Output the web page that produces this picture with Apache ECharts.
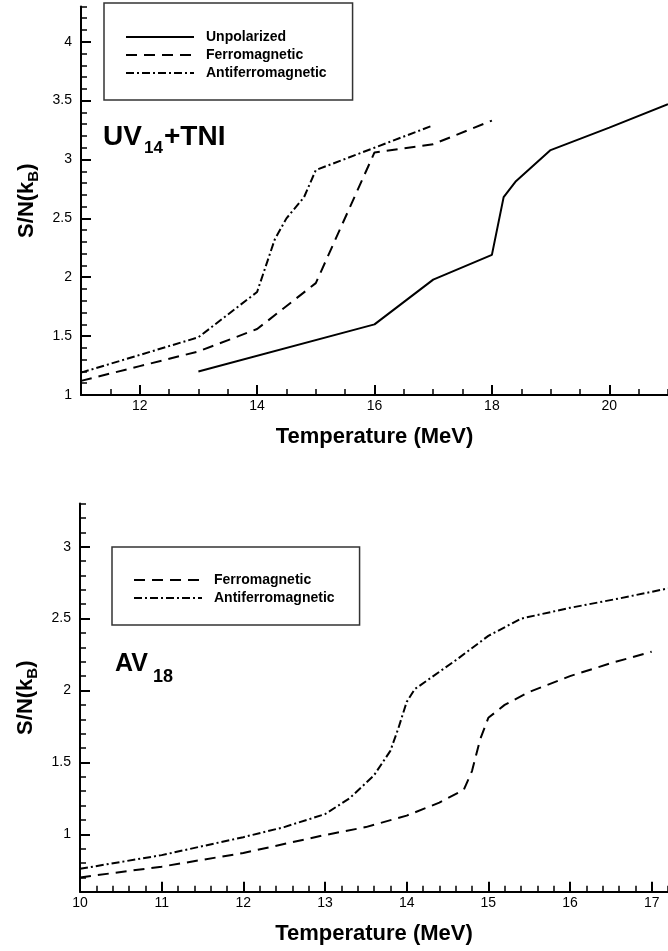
<!DOCTYPE html>
<html>
<head>
<meta charset="utf-8">
<script src="https://cdn.jsdelivr.net/npm/echarts@6/dist/echarts.min.js"></script>
<style>
  html, body { margin: 0; padding: 0; background: #fff; }
  #chart { width: 668px; height: 951px; }
</style>
</head>
<body>
<div id="chart"></div>
<script>
// ---------- DATA ----------
// Top panel: UV14+TNI
var topUnpolT = [13, 16, 17, 18, 18.2, 18.4, 19, 20, 21];
var topUnpolS = [1.20, 1.60, 1.98, 2.19, 2.68, 2.81, 3.08, 3.27, 3.47];

var topFerroT = [11, 12, 13, 14, 15, 16, 17, 18];
var topFerroS = [1.12, 1.245, 1.37, 1.56, 1.95, 3.06, 3.13, 3.33];

var topAntiT = [11, 12, 13, 14, 14.3, 14.5, 14.8, 15, 16, 17];
var topAntiS = [1.19, 1.34, 1.49, 1.875, 2.32, 2.50, 2.68, 2.91, 3.10, 3.29];

// Bottom panel: AV18
var botFerroT = [10, 11, 12, 13, 13.5, 14, 14.4, 14.7, 14.8, 14.9, 15, 15.2, 15.5, 16, 16.5, 17];
var botFerroS = [0.70, 0.775, 0.87, 0.995, 1.05, 1.13, 1.22, 1.31, 1.44, 1.66, 1.81, 1.90, 1.99, 2.10, 2.19, 2.27];

var botAntiT = [10, 11, 12, 12.5, 13, 13.3, 13.6, 13.8, 13.9, 14, 14.1, 14.3, 14.6, 15, 15.4, 16, 16.6, 17.2];
var botAntiS = [0.76, 0.855, 0.98, 1.05, 1.14, 1.25, 1.41, 1.58, 1.74, 1.92, 2.01, 2.09, 2.21, 2.38, 2.50, 2.575, 2.64, 2.71];

// Tick labels
var topXTicks = [12, 14, 16, 18, 20];
var topYTicks = [1, 1.5, 2, 2.5, 3, 3.5, 4];
var botXTicks = [10, 11, 12, 13, 14, 15, 16, 17];
var botYTicks = [1, 1.5, 2, 2.5, 3];

var seriesNames = ['Unpolarized', 'Ferromagnetic', 'Antiferromagnetic'];
var xTitle = 'Temperature (MeV)';

// ---------- BUILD ----------
function zip(a, b) { return a.map(function (v, i) { return [v, b[i]]; }); }

var FONT = '"Liberation Sans", Arial, sans-serif';
var DASH = [11, 7];
var DASHDOT = [8, 3, 2, 3];

function mainX(grid, min, max, ticks) {
  return {
    type: 'value', gridIndex: grid, min: min, max: max, position: 'bottom',
    splitLine: { show: false },
    axisLine: { show: true, onZero: false, lineStyle: { color: '#000', width: 2 } },
    axisTick: { show: true, inside: true, length: 10, customValues: ticks, lineStyle: { color: '#000', width: 2 } },
    axisLabel: { show: true, customValues: ticks, color: '#000', fontFamily: FONT, fontSize: 14, margin: 4 },
    name: xTitle, nameLocation: 'middle', nameGap: 31,
    nameTextStyle: { fontFamily: FONT, fontSize: 22, fontWeight: 'bold', color: '#000' }
  };
}
function minorX(grid, min, max, interval) {
  return {
    type: 'value', gridIndex: grid, min: min, max: max, interval: interval, position: 'bottom',
    splitLine: { show: false },
    axisLine: { show: false, onZero: false },
    axisTick: { show: true, inside: true, length: 6, lineStyle: { color: '#000', width: 1.5 } },
    axisLabel: { show: false }
  };
}
function mainY(grid, min, max, ticks) {
  return {
    type: 'value', gridIndex: grid, min: min, max: max, position: 'left',
    splitLine: { show: false },
    axisLine: { show: true, onZero: false, lineStyle: { color: '#000', width: 2 } },
    axisTick: { show: true, inside: true, length: 10, customValues: ticks, lineStyle: { color: '#000', width: 2 } },
    axisLabel: { show: true, customValues: ticks, color: '#000', fontFamily: FONT, fontSize: 14, margin: 9 },
    name: '{a|S/N(k}{b|B}{a|)}', nameLocation: 'middle', nameGap: 40, nameRotate: 90,
    nameTextStyle: {
      rich: {
        a: { fontFamily: FONT, fontSize: 22, fontWeight: 'bold', color: '#000', lineHeight: 28, verticalAlign: 'middle' },
        b: { fontFamily: FONT, fontSize: 15, fontWeight: 'bold', color: '#000', lineHeight: 14, verticalAlign: 'bottom' }
      }
    }
  };
}
function minorY(grid, min, max, interval) {
  return {
    type: 'value', gridIndex: grid, min: min, max: max, interval: interval, position: 'left',
    splitLine: { show: false },
    axisLine: { show: false, onZero: false },
    axisTick: { show: true, inside: true, length: 6, lineStyle: { color: '#000', width: 1.5 } },
    axisLabel: { show: false }
  };
}
function lineSeries(name, xi, yi, data, dash) {
  return {
    type: 'line', name: name, xAxisIndex: xi, yAxisIndex: yi, data: data,
    symbol: 'none', showSymbol: false, silent: true, clip: true,
    lineStyle: { color: '#000', width: 2, type: dash, cap: 'butt' },
    itemStyle: { color: '#000' }
  };
}
function legendBox(names, left, top, padding) {
  return {
    data: names, orient: 'vertical', left: left, top: top,
    itemWidth: 68, itemHeight: 14, itemGap: 4, padding: padding,
    borderColor: '#333', borderWidth: 1.5, backgroundColor: '#fff',
    selectedMode: false,
    itemStyle: { color: 'rgba(0,0,0,0)', borderColor: 'rgba(0,0,0,0)', borderWidth: 0 },
    lineStyle: { width: 2, color: '#000' },
    textStyle: { fontFamily: FONT, fontSize: 14, fontWeight: 'bold', color: '#000', lineHeight: 14, padding: [0, 0, 0, 7] }
  };
}

var option = {
  animation: false,
  backgroundColor: '#fff',
  grid: [
    { left: 81, top: 6.4, width: 590, height: 388.6 },
    { left: 80, top: 503.6, width: 590.4, height: 388.2 }
  ],
  xAxis: [
    mainX(0, 11, 21, topXTicks),
    minorX(0, 11, 21, 0.5),
    mainX(1, 10, 17.2, botXTicks),
    minorX(1, 10, 17.2, 0.2)
  ],
  yAxis: [
    mainY(0, 1, 4.3, topYTicks),
    minorY(0, 1, 4.3, 0.1),
    mainY(1, 0.6, 3.3, botYTicks),
    minorY(1, 0.6, 3.3, 0.1)
  ],
  legend: [
    legendBox(seriesNames, 104, 3, [27, 26, 20, 21]),
    legendBox([seriesNames[1], seriesNames[2]], 112, 547, [26, 25, 20, 21])
  ],
  series: [
    lineSeries(seriesNames[0], 0, 0, zip(topUnpolT, topUnpolS), 'solid'),
    lineSeries(seriesNames[1], 0, 0, zip(topFerroT, topFerroS), DASH),
    lineSeries(seriesNames[2], 0, 0, zip(topAntiT, topAntiS), DASHDOT),
    lineSeries(seriesNames[1], 2, 2, zip(botFerroT, botFerroS), DASH),
    lineSeries(seriesNames[2], 2, 2, zip(botAntiT, botAntiS), DASHDOT)
  ],
  graphic: [
    { type: 'text', left: 103, top: 123, style: { text: 'UV', font: 'bold 28px ' + FONT, fill: '#000' } },
    { type: 'text', left: 144, top: 140, style: { text: '14', font: 'bold 17px ' + FONT, fill: '#000' } },
    { type: 'text', left: 164, top: 123, style: { text: '+TNI', font: 'bold 28px ' + FONT, fill: '#000' } },
    { type: 'text', left: 115, top: 652, style: { text: 'AV', font: 'bold 25px ' + FONT, fill: '#000' } },
    { type: 'text', left: 153, top: 668, style: { text: '18', font: 'bold 18px ' + FONT, fill: '#000' } }
  ]
};

var chart = echarts.init(document.getElementById('chart'), null, { renderer: 'canvas' });
chart.setOption(option);
</script>
</body>
</html>
